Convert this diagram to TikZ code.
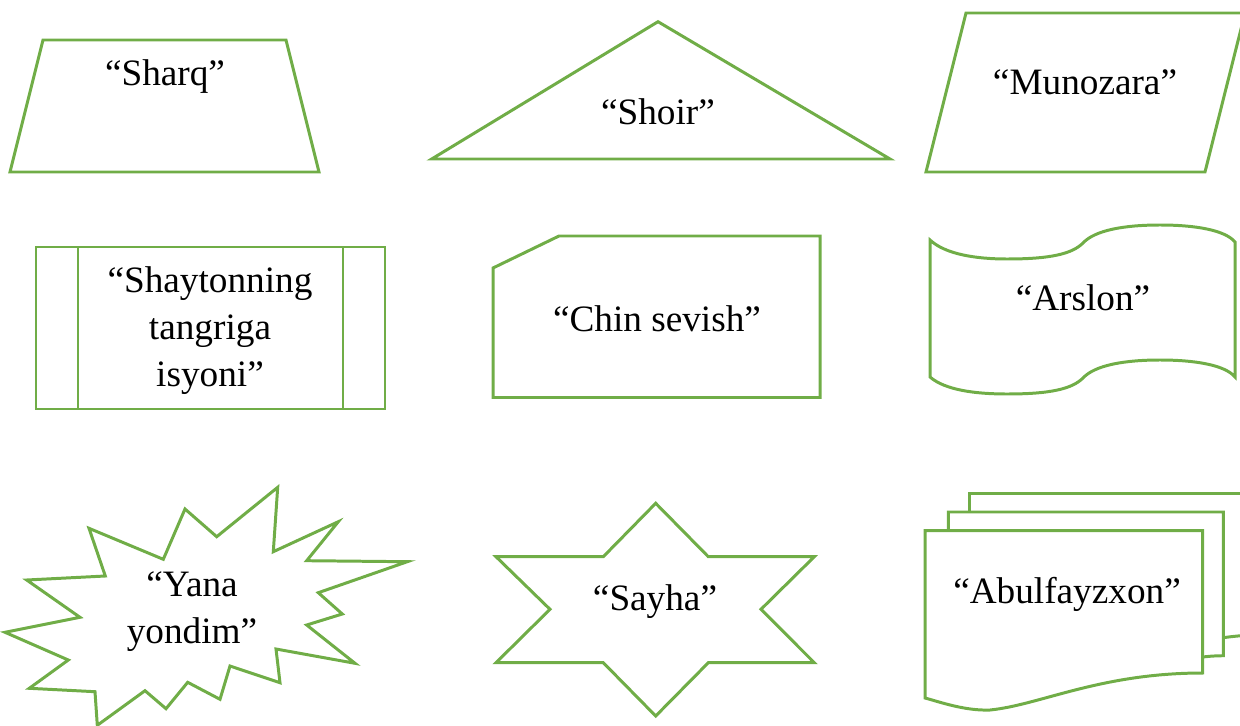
\documentclass[tikz,border=0pt]{standalone}
\usepackage{fontspec}
\setmainfont{Liberation Serif}
\definecolor{leafgreen}{RGB}{112,173,71}

\begin{document}
\begin{tikzpicture}
  [x=0.02cm,y=-0.02cm,
   outline/.style={draw=leafgreen,line width=1.7pt,line join=miter},
   lbl/.style={anchor=base,inner sep=0pt,align=center,font=\fontsize{21.2pt}{26.7pt}\selectfont}]
  \useasboundingbox (0,0) rectangle (1240,726);
  \clip (0,0) rectangle (1240,726);

  % top row
  \draw[outline] (43,40) -- (286,40) -- (319,172) -- (10,172) -- cycle;
  \node[lbl] (sharq) at (165,86) {“Sharq”};

  \draw[outline] (658,21.7) -- (890,159) -- (431.7,159) -- cycle;
  \node[lbl] (shoir) at (658,125) {“Shoir”};

  \draw[outline] (966,13) -- (1245,13) -- (1205,172) -- (926,172) -- cycle;
  \node[lbl] (munozara) at (1085,94.3) {“Munozara”};

  % middle row
  \draw[outline] (36,247) rectangle (385,409);
  \draw[outline] (78,247) -- (78,409);
  \draw[outline] (343,247) -- (343,409);
  % multi-line: base is the last line
  \node[lbl] (shaytan) at (210,386) {“Shaytonning\\tangriga\\isyoni”};

  \draw[outline] (493,268) -- (559,236) -- (820,236) -- (820,397.5) -- (493,397.5) -- cycle;
  \node[lbl] (chin) at (657,331) {“Chin sevish”};

  \draw[outline] (930,240)
    .. controls (945,254) and (975,259) .. (1007,259)
    .. controls (1050,259) and (1072,254) .. (1083,243)
    .. controls (1095,230) and (1125,225) .. (1160,225)
    .. controls (1195,225) and (1225,230) .. (1235,242)
    -- (1235,377)
    .. controls (1225,365) and (1195,360) .. (1160,360)
    .. controls (1125,360) and (1095,365) .. (1083,378)
    .. controls (1072,389) and (1050,394) .. (1007,394)
    .. controls (975,394) and (945,390) .. (930,377) -- cycle;
  \node[lbl] (arslon) at (1083,310) {“Arslon”};

  % bottom row
  \draw[outline] (277.7,487.3) -- (216.7,536.7) -- (185,509) -- (163.3,559.3)
    -- (89,528.3) -- (105.3,576) -- (26.7,580) -- (80,617.3) -- (5,632.3)
    -- (68.3,660) -- (29.3,688.3) -- (95,691.7) -- (97.3,725.3) -- (145,690.7)
    -- (166,708.7) -- (187.7,682.3) -- (220,699.3) -- (230,666) -- (280,682.7)
    -- (276,649) -- (355,663.3) -- (306.7,625) -- (342.3,614) -- (318.3,592.7)
    -- (407.3,561.7) -- (306.7,560.7) -- (338.3,521.7) -- (273.3,551.7) -- cycle;
  \node[lbl] (yana) at (192,643) {“Yana\\yondim”};

  \draw[outline] (655.7,503.3) -- (708.3,556.7) -- (814.3,556.7) -- (761,609.3)
    -- (814.3,662.7) -- (708.3,662.7) -- (655.7,716) -- (603.3,662.7)
    -- (496,662.7) -- (550,609.3) -- (496,556.7) -- (603.3,556.7) -- cycle;
  \node[lbl] (sayha) at (655,610) {“Sayha”};

  \draw[outline] (969,511.7) -- (969,493.3) -- (1260,493.3);
  \draw[outline] (1223.3,637.7) .. controls (1232,636.5) .. (1260,634);
  \draw[outline] (948.3,530.7) -- (948.3,512) -- (1223.3,512) -- (1223.3,655.7)
    .. controls (1212,656) .. (1202.7,657);
  \draw[outline] (925,530.7) -- (1202.7,530.7) -- (1202.7,673)
    .. controls (1100,673) and (1040,705) .. (990,710)
    .. controls (965,711) and (940,702) .. (925,698) -- cycle;
  \node[lbl] (abulf) at (1067,603) {“Abulfayzxon”};
\end{tikzpicture}
\end{document}
